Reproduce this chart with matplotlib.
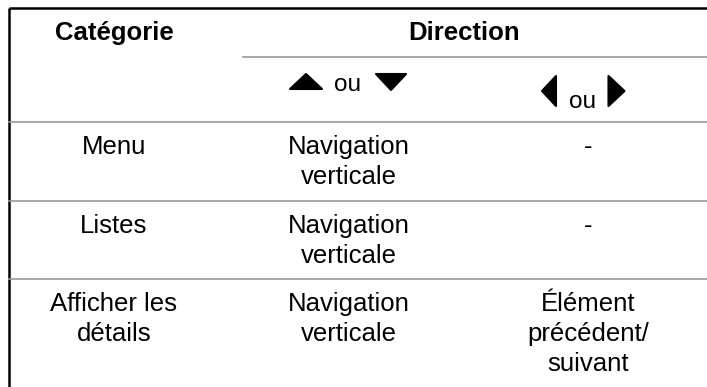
import matplotlib.pyplot as plt
from matplotlib.patches import Polygon

plt.rcParams['font.family'] = ['Liberation Sans', 'DejaVu Sans']

# contenu du tableau
header_left = "Catégorie"
header_right = "Direction"
sub_sep = "ou"
categories = ["Menu", "Listes", "Afficher les\ndétails"]
vertical_dir = ["Navigation\nverticale", "Navigation\nverticale", "Navigation\nverticale"]
horizontal_dir = ["-", "-", "Élément\nprécédent/\nsuivant"]

# mise en page (pixels)
W, H = 707, 387
col_x = [114, 349, 588]
split_x = 243
top_y = 8
left_x = 9
dir_line_y = 57
row_lines = [122, 201, 279]
first_base = 32
line_h = 30
fs = 18.5
gray = "#999999"

fig = plt.figure(figsize=(W / 100, H / 100), dpi=100)
ax = fig.add_axes([0, 0, 1, 1])
ax.set_xlim(0, W)
ax.set_ylim(H, 0)
ax.axis("off")


def put(x, top, txt, bold=False):
    for i, line in enumerate(txt.split("\n")):
        ax.text(x, top + first_base + i * line_h, line, ha="center", va="baseline",
                fontsize=fs, fontweight="bold" if bold else "normal", color="black")


def tri(cx, cy, w, h, direction):
    if direction == "up":
        pts = [(cx - w / 2, cy + h / 2), (cx + w / 2, cy + h / 2), (cx, cy - h / 2)]
    elif direction == "down":
        pts = [(cx - w / 2, cy - h / 2), (cx + w / 2, cy - h / 2), (cx, cy + h / 2)]
    elif direction == "left":
        pts = [(cx + w / 2, cy - h / 2), (cx + w / 2, cy + h / 2), (cx - w / 2, cy)]
    else:
        pts = [(cx - w / 2, cy - h / 2), (cx - w / 2, cy + h / 2), (cx + w / 2, cy)]
    ax.add_patch(Polygon(pts, closed=True, facecolor="black", edgecolor="black",
                         linewidth=1.5, joinstyle="round"))


# bordures
ax.plot([left_x, left_x], [top_y, H], color="black", lw=1.8, solid_capstyle="butt")
ax.plot([left_x, W], [top_y, top_y], color="black", lw=1.8, solid_capstyle="butt")
ax.plot([split_x, W], [dir_line_y, dir_line_y], color=gray, lw=1.2)
for y in row_lines:
    ax.plot([left_x, W], [y, y], color=gray, lw=1.2)

# en-tetes
put(col_x[0], top_y, header_left, bold=True)
put(464, top_y, header_right, bold=True)

# sous-en-tetes avec fleches
tri(306, 81.5, 32, 15, "up")
ax.text(347.5, 91, sub_sep, ha="center", va="baseline", fontsize=fs - 1)
tri(391, 82, 30, 16, "down")
tri(549, 91, 14, 30, "left")
ax.text(582, 108, sub_sep, ha="center", va="baseline", fontsize=fs - 1)
tri(616.5, 91, 16, 30, "right")

# lignes du tableau
for i in range(len(categories)):
    put(col_x[0], row_lines[i], categories[i])
    put(col_x[1], row_lines[i], vertical_dir[i])
    put(col_x[2], row_lines[i], horizontal_dir[i])

fig.savefig("out.png", dpi=100)
